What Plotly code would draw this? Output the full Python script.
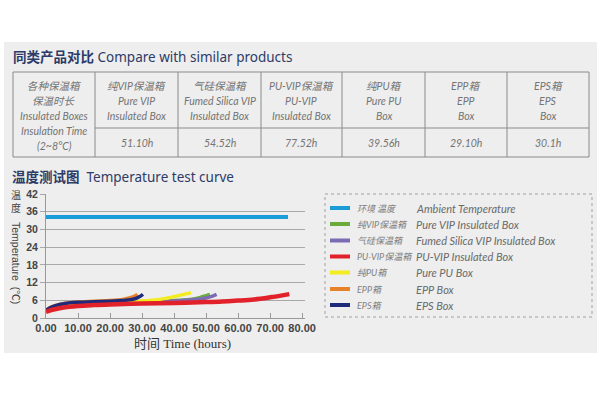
import plotly.graph_objects as go

W, H = 600, 400
def X(p): return p / W
def Y(p): return 1 - p / H

# ---------------- DATA ----------------
table_title_cn = "同类产品对比"
table_title_en = "Compare with similar products"
first_col_lines = ["各种保温箱", "保温时长", "Insulated Boxes", "Insulation Time", "(2~8°C)"]
box_cn = ["纯VIP保温箱", "气硅保温箱", "PU-VIP保温箱", "纯PU箱", "EPP箱", "EPS箱"]
box_en1 = ["Pure VIP", "Fumed Silica VIP", "PU-VIP", "Pure PU", "EPP", "EPS"]
box_en2 = ["Insulated Box", "Insulated Box", "Insulated Box", "Box", "Box", "Box"]
insulation_hours = ["51.10h", "54.52h", "77.52h", "39.56h", "29.10h", "30.1h"]

chart_title_cn = "温度测试图"
chart_title_en = "Temperature test curve"

series_cn = ["环境 温度", "纯VIP保温箱", "气硅保温箱", "PU-VIP保温箱", "纯PU箱", "EPP箱", "EPS箱"]
series_en = ["Ambient Temperature", "Pure VIP Insulated Box", "Fumed Silica VIP Insulated Box",
             "PU-VIP Insulated Box", "Pure PU Box", "EPP Box", "EPS Box"]
series_colors = ["#1b9bd7", "#6aab3b", "#7c6cb5", "#e1222a", "#f3ec20", "#e8822a", "#1f2a7a"]

t_ambient = [0, 75.6]
T_ambient = [34.2, 34.2]
t_purevip = [0, 2, 5, 10, 20, 30, 40, 45, 48, 50, 51.2]
T_purevip = [2.4, 3.4, 4.4, 5.0, 5.4, 5.6, 5.9, 6.3, 6.9, 7.6, 8.0]
t_fumed = [0, 2, 5, 10, 20, 30, 40, 46, 50, 52, 53.3]
T_fumed = [2.3, 3.3, 4.3, 4.9, 5.3, 5.5, 5.8, 6.2, 6.8, 7.4, 8.0]
t_puvip = [0, 2, 5, 10, 15, 20, 30, 40, 50, 55, 60, 65, 70, 73, 76]
T_puvip = [2.1, 2.8, 3.5, 4.1, 4.4, 4.6, 4.9, 5.1, 5.4, 5.6, 5.9, 6.3, 7.0, 7.5, 8.1]
t_purepu = [0, 2, 5, 10, 20, 30, 35, 38, 41, 43, 45.3]
T_purepu = [2.4, 3.5, 4.5, 5.1, 5.5, 5.8, 6.2, 6.8, 7.5, 8.0, 8.5]
t_epp = [0, 1, 3, 6, 10, 15, 20, 24, 26, 28, 28.6]
T_epp = [2.6, 3.4, 4.3, 5.0, 5.4, 5.7, 5.9, 6.3, 6.8, 7.6, 8.0]
t_eps = [0, 1, 3, 6, 10, 15, 20, 25, 28, 29.5, 30.3]
T_eps = [2.5, 3.3, 4.2, 4.9, 5.3, 5.5, 5.7, 6.0, 6.6, 7.4, 8.0]

x_ticks = [0, 10, 20, 30, 40, 50, 60, 70, 80]
y_ticks = [0, 6, 12, 18, 24, 30, 36, 42]

# ---------------- FIGURE ----------------
fig = go.Figure()
series = [
    (t_purevip, T_purevip, 1, 3.5),
    (t_fumed, T_fumed, 2, 3.5),
    (t_purepu, T_purepu, 4, 3.5),
    (t_epp, T_epp, 5, 3.5),
    (t_eps, T_eps, 6, 3.5),
    (t_puvip, T_puvip, 3, 4.5),
    (t_ambient, T_ambient, 0, 4),
]
for tx, ty, idx, w in series:
    fig.add_trace(go.Scatter(x=tx, y=ty, mode="lines", name=series_en[idx],
                             line=dict(color=series_colors[idx], width=w, shape="spline", smoothing=1),
                             showlegend=False, hoverinfo="skip"))

shapes = []
annotations = []
# grey panel
shapes.append(dict(type="rect", xref="paper", yref="paper", x0=X(4), x1=X(597), y0=Y(353), y1=Y(42),
                   fillcolor="#eeeeee", line=dict(width=0), layer="below"))

title_col = "#2d3b68"
annotations.append(dict(x=X(12), y=Y(57), xref="paper", yref="paper", xanchor="left", yanchor="middle",
                        showarrow=False, borderpad=0,
                        text=f"<b>{table_title_cn}</b> {table_title_en}",
                        font=dict(family="Noto Sans, Noto Sans CJK SC", size=13.5, color=title_col)))
annotations.append(dict(x=X(11), y=Y(177), xref="paper", yref="paper", xanchor="left", yanchor="middle",
                        showarrow=False, borderpad=0,
                        text=f"<b>{chart_title_cn}</b>  {chart_title_en}",
                        font=dict(family="Noto Sans, Noto Sans CJK SC", size=13.5, color=title_col)))

# table
bx = [13, 95, 178, 261, 342, 425, 507, 589]
t_top, t_mid, t_bot = 72, 128, 157
lc = "#8a8a8a"
shapes.append(dict(type="rect", xref="paper", yref="paper", x0=X(bx[0]), x1=X(bx[-1]), y0=Y(t_bot), y1=Y(t_top),
                   line=dict(color=lc, width=1)))
for b in bx[1:-1]:
    shapes.append(dict(type="line", xref="paper", yref="paper", x0=X(b), x1=X(b), y0=Y(t_bot), y1=Y(t_top),
                       line=dict(color=lc, width=1)))
shapes.append(dict(type="line", xref="paper", yref="paper", x0=X(bx[1]), x1=X(bx[-1]), y0=Y(t_mid), y1=Y(t_mid),
                   line=dict(color=lc, width=1)))
tfont = dict(family="Lato, Noto Sans CJK SC", size=10.5, color="#747474")
c0 = (bx[0] + bx[1]) / 2
for i, (ln, yy) in enumerate(zip(first_col_lines, [86, 101, 116, 131, 146])):
    annotations.append(dict(x=X(c0), y=Y(yy), xref="paper", yref="paper", xanchor="center", yanchor="middle",
                            showarrow=False, borderpad=0, text=f"<i>{ln}</i>", font=tfont))
for i in range(6):
    cx = (bx[i + 1] + bx[i + 2]) / 2
    for ln, yy in zip([box_cn[i], box_en1[i], box_en2[i]], [86, 101, 116]):
        annotations.append(dict(x=X(cx), y=Y(yy), xref="paper", yref="paper", xanchor="center", yanchor="middle",
                                showarrow=False, borderpad=0, text=f"<i>{ln}</i>", font=tfont))
    annotations.append(dict(x=X(cx), y=Y(143), xref="paper", yref="paper", xanchor="center", yanchor="middle",
                            showarrow=False, borderpad=0, text=f"<i>{insulation_hours[i]}</i>", font=tfont))

# legend box
shapes.append(dict(type="rect", xref="paper", yref="paper", x0=X(325), x1=X(592), y0=Y(317), y1=Y(194),
                   line=dict(color="#a0a0a0", width=1, dash="dot")))
leg_y = [208, 224, 240.5, 256.5, 272.5, 289, 305]
lfont = dict(family="Lato, Noto Sans CJK SC", size=11, color="#6a6a6a")
for i in range(7):
    shapes.append(dict(type="line", xref="paper", yref="paper", x0=X(330), x1=X(350), y0=Y(leg_y[i]), y1=Y(leg_y[i]),
                       line=dict(color=series_colors[i], width=4)))
    annotations.append(dict(x=X(356), y=Y(leg_y[i]), xref="paper", yref="paper", xanchor="left", yanchor="middle",
                            showarrow=False, borderpad=0, text=f"<i>{series_cn[i]}</i>",
                            font=dict(family="Lato, Noto Sans CJK SC", size=9, color="#808080")))
    annotations.append(dict(x=X(415), y=Y(leg_y[i]), xref="paper", yref="paper", xanchor="left", yanchor="middle",
                            showarrow=False, borderpad=0, text=f"<i>{series_en[i]}</i>", font=lfont))

# axis titles
annotations.append(dict(x=X(182), y=Y(343), xref="paper", yref="paper", xanchor="center", yanchor="middle",
                        showarrow=False, text="时间 Time (hours)",
                        font=dict(family="Liberation Serif, Noto Sans CJK SC", size=13, color="#333333")))
annotations.append(dict(x=X(16), y=Y(201), xref="paper", yref="paper", xanchor="center", yanchor="middle",
                        showarrow=False, text="温<br>度", borderpad=0,
                        font=dict(family="Noto Sans CJK SC", size=10, color="#444444")))
annotations.append(dict(x=X(16), y=Y(263), xref="paper", yref="paper", xanchor="center", yanchor="middle",
                        showarrow=False, text="Temperature  (℃)", textangle=90, borderpad=0,
                        font=dict(family="Liberation Sans, Noto Sans CJK SC", size=10.5, color="#444444")))

fig.update_layout(
    width=W, height=H, margin=dict(l=0, r=0, t=0, b=0, autoexpand=False),
    paper_bgcolor="white", plot_bgcolor="rgba(0,0,0,0)",
    shapes=shapes, annotations=annotations,
    xaxis=dict(domain=[X(46), X(305)], range=[0, 80.9], tickvals=x_ticks, automargin=False,
               ticktext=[f"<b>{v:.2f}</b>" for v in x_ticks],
               showgrid=False, zeroline=False, showline=True, linecolor="#999999", linewidth=1,
               ticks="inside", ticklen=5, tickcolor="#999999",
               tickfont=dict(family="Liberation Sans", size=11, color="#444444")),
    yaxis=dict(domain=[Y(318), Y(194)], range=[0, 42], tickvals=y_ticks, automargin=False,
               ticktext=[f"<b>{v}</b>" for v in y_ticks],
               showgrid=True, gridcolor="#a8a8a8", gridwidth=1, zeroline=False,
               showline=True, linecolor="#999999", linewidth=1,
               ticks="outside", ticklen=5, tickcolor="#a8a8a8",
               tickfont=dict(family="Liberation Sans", size=10.5, color="#444444")),
)
fig.write_html("out.html", post_script="document.body.style.margin='0';")
